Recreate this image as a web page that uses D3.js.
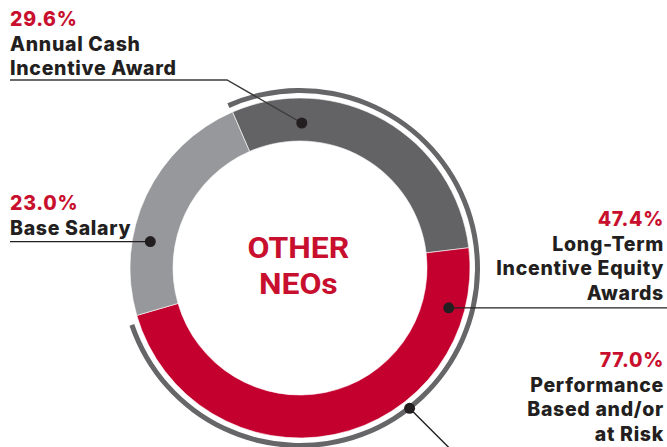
<!DOCTYPE html>
<html>
<head>
<meta charset="utf-8">
<script src="https://cdn.jsdelivr.net/npm/d3@7"></script>
<style>
  body { margin: 0; background: #fff; }
  svg { display: block; }
</style>
</head>
<body>
<script>
// chart data
const categories = ['Annual Cash Incentive Award', 'Long-Term Incentive Equity Awards', 'Base Salary'];
const values = [29.6, 47.4, 23.0];
const colors = ['#636265', '#c4002f', '#97989b'];
const centerLines = ['OTHER', 'NEOs'];
const groupName = 'Performance Based and/or at Risk';
const groupMembers = [0, 1]; // slices summed in the outer bracket arc

const width = 667, height = 447;
const cx = 300, cy = 268;
const rInner = 127, rOuter = 170;
const bracketIn = 175, bracketOut = 180;
const red = '#c8102e', ink = '#231f20';
const deg = Math.PI / 180;

const svg = d3.select('body')
  .append('svg')
  .attr('width', width)
  .attr('height', height);

const g = svg.append('g')
  .attr('transform', `translate(${cx},${cy})`);

const pie = d3.pie()
  .sort(null)
  .startAngle(-23.4 * deg)
  .endAngle(-23.4 * deg + 2 * Math.PI);

const arcs = pie(values);

const arc = d3.arc()
  .innerRadius(rInner)
  .outerRadius(rOuter);

g.selectAll('path.slice')
  .data(arcs)
  .enter()
  .append('path')
  .attr('class', 'slice')
  .attr('d', arc)
  .attr('fill', (d, i) => colors[i])
  .attr('stroke', '#fff')
  .attr('stroke-width', 0.6);

// outer bracket over the performance based slices
const groupValue = d3.sum(groupMembers, i => values[i]);
const bracket = d3.arc()
  .innerRadius(bracketIn)
  .outerRadius(bracketOut)
  .startAngle(arcs[groupMembers[0]].startAngle - 0.4 * deg)
  .endAngle(arcs[groupMembers[groupMembers.length - 1]].endAngle - 2.5 * deg);

g.append('path')
  .attr('d', bracket())
  .attr('fill', '#666668');

// center title
g.selectAll('text.center')
  .data(centerLines)
  .enter()
  .append('text')
  .attr('class', 'center')
  .attr('x', -1.5)
  .attr('y', (d, i) => -10 + i * 35.5)
  .attr('text-anchor', 'middle')
  .attr('transform', 'scale(1.1,1)')
  .style('font-family', 'Roboto, sans-serif')
  .style('font-weight', 700)
  .style('font-size', '29px')
  .attr('fill', red)
  .text(d => d);

// label layout: dot angle/radius, text anchor, leader elbow
const labels = [
  { value: values[0], lines: ['Annual Cash', 'Incentive Award'], x: 10, y: 26, anchor: 'start',
    dotAngle: 0.7, dotR: 145, lineY: 80, lineX: 10, elbowX: 227 },
  { value: values[2], lines: ['Base Salary'], x: 10, y: 210, anchor: 'start',
    dotAngle: -80, dotR: 152, lineY: null, lineX: 10 },
  { value: values[1], lines: ['Long-Term', 'Incentive Equity', 'Awards'], x: 664, y: 226, anchor: 'end',
    dotAngle: 105, dotR: 154, lineY: null, lineX: 667 },
  { value: groupValue, lines: ['Performance', 'Based and/or', 'at Risk'], x: 664, y: 367, anchor: 'end',
    dotAngle: 142, dotR: 178, lineY: null, lineX: null, tail: 45 }
];

const lbl = svg.append('g');

labels.forEach(l => {
  const dx = cx + l.dotR * Math.sin(l.dotAngle * deg);
  const dy = cy - l.dotR * Math.cos(l.dotAngle * deg);

  let pts;
  if (l.elbowX != null) {
    pts = [[l.lineX, l.lineY], [l.elbowX, l.lineY], [dx, dy]];
  } else if (l.tail != null) {
    pts = [[dx, dy], [dx + l.tail, dy + l.tail]];
  } else {
    pts = [[l.lineX, dy], [dx, dy]];
  }

  lbl.append('path')
    .attr('d', d3.line()(pts))
    .attr('fill', 'none')
    .attr('stroke', l.elbowX != null ? '#3a3a3c' : ink)
    .attr('stroke-width', 1.4);

  lbl.append('circle')
    .attr('cx', dx)
    .attr('cy', dy)
    .attr('r', 5.5)
    .attr('fill', ink);

  const t = lbl.append('text')
    .attr('x', l.x)
    .attr('y', l.y)
    .attr('text-anchor', l.anchor)
    .style('font-family', 'Inter, sans-serif')
    .style('font-weight', 800)
    .style('font-size', '19.5px')
    .style('letter-spacing', '0.7px');

  t.append('tspan')
    .attr('x', l.x)
    .attr('fill', red)
    .text(l.value.toFixed(1) + '%');

  l.lines.forEach(line => {
    t.append('tspan')
      .attr('x', l.x)
      .attr('dy', 24.5)
      .attr('fill', ink)
      .text(line);
  });
});
</script>
</body>
</html>
